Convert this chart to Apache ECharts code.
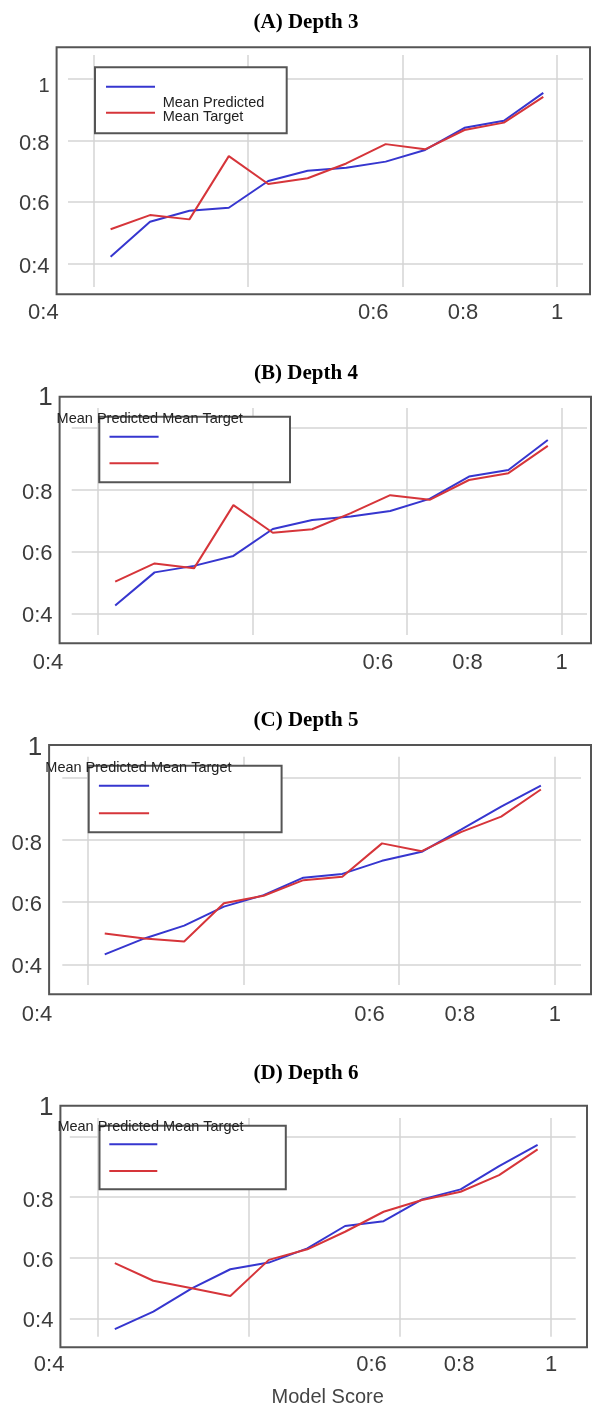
<!DOCTYPE html>
<html><head><meta charset="utf-8">
<script src="https://cdn.jsdelivr.net/npm/echarts@6/dist/echarts.min.js"></script>
<style>html,body{margin:0;padding:0;background:#fff}#c{width:592px;height:1405px}</style>
</head><body><div id="c"></div>
<script>
// ---------- data ----------
const seriesNames = ['Mean Predicted', 'Mean Target'];
const panelTitles = ['(A) Depth 3', '(B) Depth 4', '(C) Depth 5', '(D) Depth 6'];
const xAxisTitle = 'Model Score';
const xValues = [0.422, 0.473, 0.524, 0.575, 0.626, 0.677, 0.727, 0.778, 0.829, 0.880, 0.931, 0.982];

const predA = [0.421, 0.535, 0.571, 0.581, 0.668, 0.701, 0.711, 0.731, 0.769, 0.841, 0.864, 0.955];
const targA = [0.511, 0.557, 0.543, 0.749, 0.658, 0.677, 0.725, 0.788, 0.771, 0.834, 0.858, 0.942];
const predB = [0.425, 0.532, 0.553, 0.585, 0.672, 0.701, 0.712, 0.730, 0.769, 0.841, 0.862, 0.959];
const targB = [0.502, 0.561, 0.545, 0.749, 0.660, 0.671, 0.723, 0.781, 0.766, 0.830, 0.852, 0.940];
const predC = [0.432, 0.483, 0.524, 0.585, 0.622, 0.678, 0.690, 0.732, 0.761, 0.833, 0.906, 0.973];
const targC = [0.499, 0.483, 0.473, 0.596, 0.620, 0.670, 0.681, 0.788, 0.763, 0.825, 0.874, 0.961];
const predD = [0.364, 0.422, 0.499, 0.562, 0.584, 0.631, 0.705, 0.721, 0.793, 0.826, 0.903, 0.973];
const targD = [0.582, 0.524, 0.499, 0.474, 0.593, 0.628, 0.686, 0.752, 0.791, 0.818, 0.873, 0.958];

const gridValues = [0.4, 0.6, 0.8, 1.0];          // gridline values (both axes)
const yTickLabels = ['0:4', '0:6', '0:8', '1'];
const yTickPosA = [0.389, 0.592, 0.787, 0.977];
const yTickPosBCD = [0.390, 0.590, 0.787, 1.095];
const xTickLabels = ['0:4', '0:6', '0:8', '1'];
const xTickPos = [0.335, 0.762, 0.878, 1.0];

// ---------- layout (pixels) ----------
const layout = [
  { box: [56.6, 47.3, 590, 294.3], inner: [68, 55, 583, 287], xg: [93.6, 557.2], yg: [263.3, 79.0],
    titleY: 22.7, xLabY: 313.3, oneSize: 20,
    leg: { l: 95, t: 67.3, r: 286.7, b: 133.3, y1: 86.7, y2: 112.7, x1: 106, x2: 155 },
    legText: { x: 162.7, y: 103.3, sep: '\n' } },
  { box: [59.6, 396.7, 591, 643.3], inner: [71.7, 408, 587, 635], xg: [98.2, 561.7], yg: [613.3, 427.3],
    titleY: 374, xLabY: 663.3, oneSize: 26,
    leg: { l: 99.3, t: 416.7, r: 290, b: 482.3, y1: 436.7, y2: 463.3, x1: 109.5, x2: 158.6 },
    legText: { x: 56.6, y: 418.7, sep: ' ' } },
  { box: [49.1, 745, 591, 994.3], inner: [62.3, 756.7, 581, 985], xg: [87.6, 554.9], yg: [964.3, 777.3],
    titleY: 720.7, xLabY: 1015, oneSize: 26,
    leg: { l: 88.7, t: 765.7, r: 281.6, b: 832.3, y1: 785.7, y2: 813.3, x1: 98.9, x2: 149.1 },
    legText: { x: 45.3, y: 767.7, sep: ' ' } },
  { box: [60.4, 1105.7, 587, 1347.3], inner: [69.8, 1118, 575.7, 1336.7], xg: [98.2, 551.2], yg: [1318.3, 1136.7],
    titleY: 1074, xLabY: 1365, oneSize: 26,
    leg: { l: 99.5, t: 1125.7, r: 285.8, b: 1189.3, y1: 1144.3, y2: 1171, x1: 109.3, x2: 157.3 },
    legText: { x: 57.4, y: 1127.3, sep: ' ' } }
];
const panelData = [[predA, targA, yTickPosA], [predB, targB, yTickPosBCD], [predC, targC, yTickPosBCD], [predD, targD, yTickPosBCD]];

const SANS = 'Liberation Sans, Arial, sans-serif';
const SERIF = 'Liberation Serif, Times New Roman, serif';
const BLUE = '#3636cf', RED = '#d6353a';
const LABEL_COLOR = '#3c3c3c';

const grids = [], xAxes = [], yAxes = [], series = [], titles = [], legends = [];

function nearestIdx(arr, v) {
  let b = 0;
  arr.forEach((a, i) => { if (Math.abs(a - v) < Math.abs(arr[b] - v)) b = i; });
  return b;
}

layout.forEach((L, p) => {
  const [pred, targ, yPos] = panelData[p];
  const xv = px => 0.4 + (px - L.xg[0]) / (L.xg[1] - L.xg[0]) * 0.6;
  const yv = py => 0.4 + (L.yg[0] - py) / (L.yg[0] - L.yg[1]) * 0.6;

  // box grid (frame + y labels)
  const gBox = grids.length;
  grids.push({ left: L.box[0], top: L.box[1], width: L.box[2] - L.box[0], height: L.box[3] - L.box[1],
    show: true, borderColor: '#555', borderWidth: 2, backgroundColor: 'transparent', outerBoundsMode: 'none', containLabel: false });
  xAxes.push({ gridIndex: gBox, type: 'value', min: 0, max: 1, show: false });
  yAxes.push({ gridIndex: gBox, type: 'value', min: yv(L.box[3]), max: yv(L.box[1]),
    axisLine: { show: false }, axisTick: { show: false }, splitLine: { show: false },
    axisLabel: { show: true, customValues: yPos, margin: 7, fontSize: 22, fontFamily: SANS, color: LABEL_COLOR,
      formatter: v => { const s = yTickLabels[nearestIdx(yPos, v)]; return s === '1' ? '{one|1}' : s; },
      rich: { one: { fontSize: L.oneSize, fontFamily: SANS, color: LABEL_COLOR } } } });

  // label grid (x labels)
  const gLab = grids.length;
  grids.push({ left: 0, top: L.box[1], width: 592, height: L.box[3] - L.box[1], show: false, outerBoundsMode: 'none', containLabel: false });
  xAxes.push({ gridIndex: gLab, type: 'value', min: xv(0), max: xv(592), position: 'bottom',
    axisLine: { show: false }, axisTick: { show: false }, splitLine: { show: false },
    axisLabel: { show: true, customValues: xTickPos, margin: L.xLabY - L.box[3], verticalAlign: 'middle',
      fontSize: 22, fontFamily: SANS, color: LABEL_COLOR,
      formatter: v => xTickLabels[nearestIdx(xTickPos, v)] } });
  yAxes.push({ gridIndex: gLab, type: 'value', min: 0, max: 1, show: false });

  // main grid (gridlines + lines)
  const gMain = grids.length;
  grids.push({ left: L.inner[0], top: L.inner[1], width: L.inner[2] - L.inner[0], height: L.inner[3] - L.inner[1],
    show: false, outerBoundsMode: 'none', containLabel: false });
  const xi = xAxes.length, yi = yAxes.length;
  xAxes.push({ gridIndex: gMain, type: 'value', min: xv(L.inner[0]), max: xv(L.inner[2]),
    axisLine: { show: false }, axisTick: { show: false, customValues: gridValues }, axisLabel: { show: false },
    splitLine: { show: true, lineStyle: { color: '#d5d5d5', width: 1.5 } } });
  yAxes.push({ gridIndex: gMain, type: 'value', min: yv(L.inner[3]), max: yv(L.inner[1]),
    axisLine: { show: false }, axisTick: { show: false, customValues: gridValues }, axisLabel: { show: false },
    splitLine: { show: true, lineStyle: { color: '#d5d5d5', width: 1.5 } } });

  [pred, targ].forEach((vals, k) => {
    series.push({ name: seriesNames[k], type: 'line', xAxisIndex: xi, yAxisIndex: yi,
      data: xValues.map((x, i) => [x, vals[i]]), symbol: 'none', showSymbol: false,
      lineStyle: { width: 2, color: k === 0 ? BLUE : RED }, itemStyle: { color: k === 0 ? BLUE : RED },
      z: k === 0 ? 3 : 4 });
  });

  // panel title
  titles.push({ text: panelTitles[p], left: 306, top: L.titleY - 10.5, textAlign: 'center', padding: 0,
    textStyle: { fontFamily: SERIF, fontWeight: 'bold', fontSize: 21, color: '#000' } });

  // legend
  const G = L.leg, ih = 2, iw = G.x2 - G.x1;
  legends.push({ left: G.l, top: G.t, orient: 'vertical', icon: 'rect', itemWidth: iw, itemHeight: ih,
    itemGap: (G.y2 - G.y1) - ih,
    padding: [G.y1 - ih / 2 - G.t, (G.r - G.l) - (G.x1 - G.l) - iw - 5, G.b - (G.y2 + ih / 2), G.x1 - G.l],
    formatter: () => '', selectedMode: false, data: seriesNames,
    backgroundColor: '#fff', borderColor: '#555', borderWidth: 2, borderRadius: 0,
    textStyle: { fontSize: 2, lineHeight: 2 } });

  // legend text
  const lh = 14;
  titles.push({ text: seriesNames.join(L.legText.sep), left: L.legText.x, top: L.legText.y - lh / 2, padding: 0, z: 10,
    textStyle: { fontFamily: SANS, fontWeight: 'normal', fontSize: 14.5, lineHeight: lh, color: '#222' } });
});

titles.push({ text: xAxisTitle, left: 327.7, top: 1397.3 - 10, textAlign: 'center', padding: 0,
  textStyle: { fontFamily: SANS, fontWeight: 'normal', fontSize: 20, color: '#444' } });

const chart = echarts.init(document.getElementById('c'), null, { renderer: 'canvas' });
chart.setOption({
  animation: false,
  backgroundColor: '#fff',
  title: titles,
  legend: legends,
  grid: grids,
  xAxis: xAxes,
  yAxis: yAxes,
  series: series
});
</script>
</body></html>
